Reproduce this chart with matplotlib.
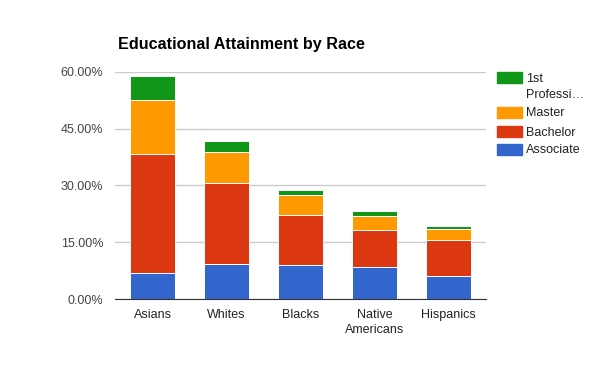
import numpy as np
import matplotlib
matplotlib.use('Agg')
import matplotlib.pyplot as plt
from matplotlib.patches import Rectangle
from matplotlib.ticker import FuncFormatter

plt.rcParams['font.family'] = ['Liberation Sans', 'DejaVu Sans']

# Werte (Anteil in %)
races = ['Asians', 'Whites', 'Blacks', 'Native\nAmericans', 'Hispanics']
associate = [6.8, 9.2, 8.9, 8.4, 6.0]
bachelor = [31.6, 21.3, 13.4, 9.7, 9.5]
master = [14.0, 8.2, 5.1, 3.7, 2.9]
professional = [6.5, 3.1, 1.3, 1.3, 1.0]

series = [('Associate', associate, '#3366cc'),
          ('Bachelor', bachelor, '#dc3912'),
          ('Master', master, '#ff9900'),
          ('1st\nProfessi…', professional, '#109618')]
yticks = [0, 15, 30, 45, 60]

fig = plt.figure(figsize=(6, 3.71), dpi=100)
ax = fig.add_axes([115 / 600, 1 - 299 / 371, 371 / 600, (299 - 71.7) / 371])

x = np.arange(len(races))
bottom = np.zeros(len(races))
for name, vals, color in series:
    ax.bar(x, vals, width=0.61, bottom=bottom, color=color,
           edgecolor='white', linewidth=0.7, zorder=3)
    bottom += np.array(vals)

ax.set_xlim(-0.507, len(races) - 1 + 0.507)
ax.set_ylim(0, 60)
ax.set_yticks(yticks)
ax.yaxis.set_major_formatter(FuncFormatter(lambda v, p: '%.2f%%' % v))
ax.set_xticks(x)
ax.set_xticklabels(races, linespacing=1.3)
ax.grid(axis='y', color='#cccccc', linewidth=1, zorder=0)
for s in ['left', 'right', 'top']:
    ax.spines[s].set_visible(False)
ax.spines['bottom'].set_color('#333333')
ax.spines['bottom'].set_zorder(4)
ax.tick_params(axis='both', length=0, labelsize=9, colors='#444444')
ax.tick_params(axis='x', pad=7.5, labelcolor='#222222')
ax.tick_params(axis='y', pad=8.5)

fig.text(118 / 600, 1 - 45 / 371, 'Educational Attainment by Race',
         fontsize=11.6, fontweight='bold', va='center', ha='left', color='#000000')

# Legende von oben nach unten
legend_rows = [(series[3], 77), (series[2], 112), (series[1], 131), (series[0], 149)]
for (name, vals, color), yc in legend_rows:
    fig.patches.append(Rectangle((497 / 600, 1 - (yc + 5.5) / 371), 25 / 600, 11 / 371,
                                 transform=fig.transFigure, color=color))
    fig.text(526 / 600, 1 - (yc - 4.5) / 371, name, fontsize=9, color='#222222',
             va='top', ha='left', linespacing=1.5)

fig.savefig('out.png', dpi=100)
